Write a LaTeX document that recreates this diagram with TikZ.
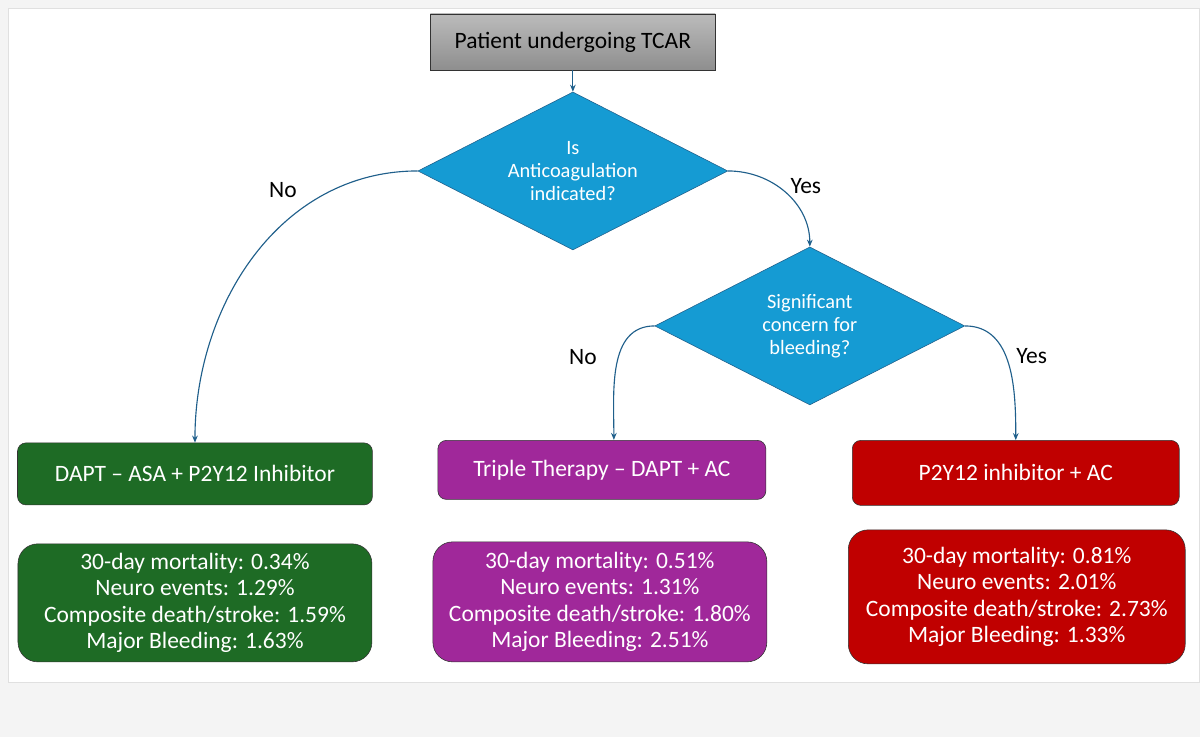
\documentclass[tikz,border=0pt]{standalone}
\usepackage{fontspec}
\setmainfont{Carlito}
\usetikzlibrary{shapes.geometric}
\usetikzlibrary{arrows.meta}
\definecolor{flowBlue}{HTML}{159BD3}
\definecolor{lineBlue}{HTML}{1F5F8B}
\definecolor{dgreen}{HTML}{1E6B25}
\definecolor{dpurple}{HTML}{A0289A}
\definecolor{dred}{HTML}{C00000}
\definecolor{startGray}{HTML}{8E8E8E}
\definecolor{pageGray}{HTML}{F4F4F4}
\begin{document}
\begin{tikzpicture}[
    x=0.025cm, y=-0.025cm,
    every node/.style={font=\fontsize{16.7}{20}\selectfont, align=center, inner sep=0pt},
    decision/.style={diamond, draw=lineBlue, fill=flowBlue, text=white, font=\fontsize{14.5}{16.5}\selectfont, minimum width=310*0.025cm, minimum height=158*0.025cm, aspect=1.96},
    choice/.style={rounded corners=6pt, draw=black!80, text=white, minimum height=62*0.025cm},
    stats/.style={rounded corners=14pt, draw=black!80, text=white, font=\fontsize{16.7}{18.6}\selectfont, minimum height=118*0.025cm},
    line style/.style={lineBlue, thick, -{Stealth[length=5pt, width=4pt]}}
]
    % Page background
    \fill[pageGray] (0,0) rectangle (1200,737);
    \fill[white, draw=black!12] (8,8) rectangle (1200,682);
    \useasboundingbox (0,0) rectangle (1200,737);

    % Start and decisions
    \node[draw=black!80, top color=startGray!60, bottom color=startGray, minimum width=285*0.025cm, minimum height=56*0.025cm] (start) at (573,42) {Patient undergoing TCAR};
    \node[decision] (anticoag) at (573,171) {Is\\Anticoagulation\\indicated?};
    \node[decision] (bleeding) at (810,326) {Significant\\concern for\\bleeding?};

    % Therapy boxes
    \node[choice, fill=dgreen, minimum width=355*0.025cm] (dapt) at (195,474) {DAPT -- ASA + P2Y12 Inhibitor};
    \node[choice, fill=dpurple, minimum width=328*0.025cm, minimum height=59*0.025cm] (triple) at (602,470) {Triple Therapy -- DAPT + AC};
    \node[choice, fill=dred, minimum width=327*0.025cm, minimum height=65*0.025cm] (ptwo) at (1016,473) {P2Y12 inhibitor + AC};
    \coordinate (tripleIn) at (614,440);

    % Outcome boxes
    \node[stats, fill=dgreen, minimum width=354*0.025cm] (daptStats) at (195,603) {30-day mortality: 0.34\%\\Neuro events: 1.29\%\\Composite death/stroke: 1.59\%\\Major Bleeding: 1.63\%};
    \node[stats, fill=dpurple, minimum width=334*0.025cm, minimum height=120*0.025cm] (tripleStats) at (600,602) {30-day mortality: 0.51\%\\Neuro events: 1.31\%\\Composite death/stroke: 1.80\%\\Major Bleeding: 2.51\%};
    \node[stats, fill=dred, minimum width=337*0.025cm, minimum height=134*0.025cm] (ptwoStats) at (1017,597) {30-day mortality: 0.81\%\\Neuro events: 2.01\%\\Composite death/stroke: 2.73\%\\Major Bleeding: 1.33\%};

    % Connectors
    \draw[line style] (start) -- (anticoag.north);
    \draw[line style] (anticoag.west) to[out=180, in=90] (dapt.north);
    \draw[line style] (anticoag.east) to[out=0, in=90] (bleeding.north);
    \draw[line style] (bleeding.west) to[out=180, in=90] (tripleIn);
    \draw[line style] (bleeding.east) to[out=0, in=90] (ptwo.north);

    % Branch labels
    \node (noA) at (283,190) {No};
    \node (yesA) at (806,186) {Yes};
    \node (noB) at (583,357) {No};
    \node (yesB) at (1032,356) {Yes};
\end{tikzpicture}
\end{document}
